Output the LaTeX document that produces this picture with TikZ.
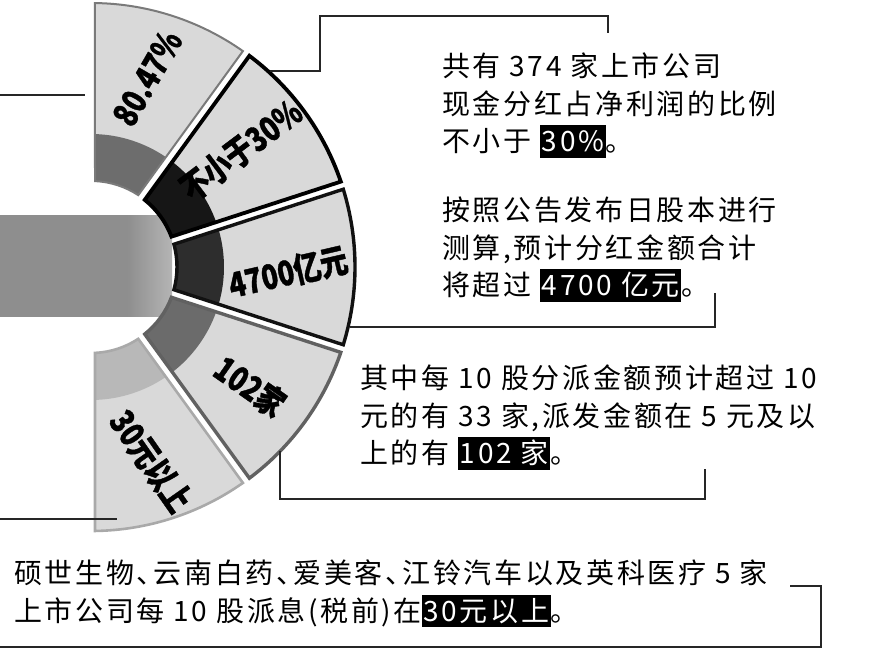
\documentclass[tikz,border=0pt]{standalone}
\usepackage{fontspec}
\newfontfamily\cjk[LetterSpace=9.5]{Noto Sans CJK SC}
\newfontfamily\cjkseg[BoldFeatures={FakeBold=1.2}]{Noto Sans CJK SC}
\usepackage{tikz}
\usetikzlibrary{calc}
\definecolor{barc}{HTML}{8E8E8E}
\definecolor{segfill}{HTML}{D9D9D9}
\definecolor{bandA}{HTML}{6D6D6D}
\definecolor{bandB}{HTML}{161616}
\definecolor{bandC}{HTML}{2D2D2D}
\definecolor{bandD}{HTML}{6B6B6B}
\definecolor{bandE}{HTML}{B8B8B8}
\definecolor{rimA}{HTML}{7A7A7A}
\definecolor{rimB}{HTML}{000000}
\definecolor{rimC}{HTML}{111111}
\definecolor{rimD}{HTML}{616161}
\definecolor{rimE}{HTML}{A9A9A9}
\pgfdeclarehorizontalshading{barshade}{100bp}{color(0bp)=(barc); color(62bp)=(barc); color(100bp)=(white)}
\newcommand{\hl}[1]{{\setlength{\fboxsep}{1.5pt}\colorbox{black}{\color{white}\rule[-0.16em]{0pt}{1.06em}#1}}}
\newcommand{\seglabel}[1]{\scalebox{0.8}[1]{#1}}
\newcommand{\dun}{、\kern-11pt}

\begin{document}
\begin{tikzpicture}[x=1pt, y=-1pt,
    txt/.style={font=\cjk\fontsize{28}{37.5}\selectfont, align=left, inner sep=0, anchor=north west},
    segtxt/.style={font=\cjkseg\bfseries\fontsize{34}{34}\selectfont, inner sep=0},
    conn/.style={line width=2, draw=black!85}]
\useasboundingbox (0,0) rectangle (890,652);
\coordinate (O) at (91,267);
\shade[shading=barshade] (0,216) rectangle (172,316);
% five ring segments, angles in picture sense (negative = up)
\foreach \a/\b/\bc/\lc/\lw in {-90/-54/bandA/rimA/2, -54/-18/bandB/rimB/3.8, -18/18/bandC/rimC/3.4, 18/54/bandD/rimD/3.4, 54/90/bandE/rimE/2.6}{
    \pgfmathsetmacro\so{\b-0.868}\pgfmathsetmacro\eo{\a+0.868}
    \pgfmathsetmacro\sm{\b-1.724}\pgfmathsetmacro\em{\a+1.724}
    \pgfmathsetmacro\si{\a+2.666}\pgfmathsetmacro\ei{\b-2.666}
    \fill[segfill] ($(O)+(\so:264)$) arc[start angle=\so, end angle=\eo, radius=264] -- ($(O)+(\si:86)$) arc[start angle=\si, end angle=\ei, radius=86] -- cycle;
    \fill[\bc] ($(O)+(\sm:133)$) arc[start angle=\sm, end angle=\em, radius=133] -- ($(O)+(\si:86)$) arc[start angle=\si, end angle=\ei, radius=86] -- cycle;
    \draw[\lc, line width=\lw] ($(O)+(\so:264)$) arc[start angle=\so, end angle=\eo, radius=264] -- ($(O)+(\si:86)$) arc[start angle=\si, end angle=\ei, radius=86] -- cycle;
}
\node[segtxt, rotate=60] (s1) at (147,78) {\seglabel{80.47\%}};
\node[segtxt, rotate=37] (s2) at (241,150) {\seglabel{不小于30\%}};
\node[segtxt, rotate=13] (s3) at (288,272) {\seglabel{4700亿元}};
\node[segtxt, rotate=-35] (s4) at (250,386) {\seglabel{102家}};
\node[segtxt, rotate=-55] (s5) at (151,461) {\seglabel{30元以上}};
% texts
\node[txt] (t1) at (442,53) {共有 374 家上市公司\\现金分红占净利润的比例\\不小于 \hl{30\%}。};
\node[txt] (t2) at (442,197) {按照公告发布日股本进行\\测算,预计分红金额合计\\将超过 \hl{4700 亿元}。};
\node[txt] (t3) at (360,365) {其中每 10 股分派金额预计超过 10\\元的有 33 家,派发金额在 5 元及以\\上的有 \hl{102 家}。};
\node[txt] (t4) at (14,560) {硕世生物\dun 云南白药\dun 爱美客\dun 江铃汽车以及英科医疗 5 家\\上市公司每 10 股派息(税前)在\hl{30元以上}。};
% connectors
\draw[conn] (0,95) -- (85,95);
\draw[conn] (270,71) -- (320,71) -- (320,16) -- (608,16) -- (608,33);
\draw[conn] (350,327) -- (715,327) -- (715,293);
\draw[conn] (280,451) -- (280,499) -- (705,499) -- (705,469);
\draw[conn] (0,519) -- (117,519);
\draw[conn] (790,586) -- (821,586) -- (821,647) -- (0,647);
\end{tikzpicture}
\end{document}
